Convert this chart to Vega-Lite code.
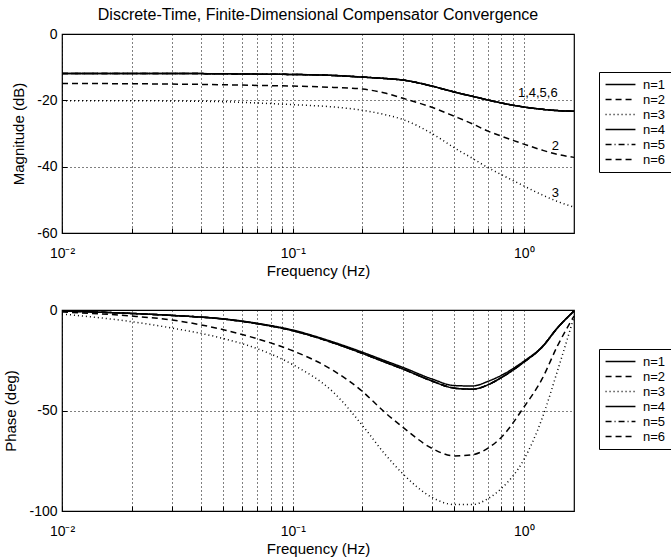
{
  "$schema": "https://vega.github.io/schema/vega-lite/v6.json",
  "padding": {"left": 3, "top": 6, "right": 0, "bottom": 0},
  "datasets": {
    "curves": [
      {"f":0.01,"n":"n=1","mag":-11.9,"ph":-0.5},{"f":0.02,"n":"n=1","mag":-11.9,"ph":-1.7},{"f":0.03,"n":"n=1","mag":-11.9,"ph":-2.7},{"f":0.05,"n":"n=1","mag":-12.0,"ph":-4.4},{"f":0.07,"n":"n=1","mag":-12.1,"ph":-6.6},{"f":0.1,"n":"n=1","mag":-12.2,"ph":-10.0},{"f":0.15,"n":"n=1","mag":-12.5,"ph":-16.0},{"f":0.2,"n":"n=1","mag":-13.0,"ph":-21.0},{"f":0.25,"n":"n=1","mag":-13.4,"ph":-25.2},{"f":0.3,"n":"n=1","mag":-13.9,"ph":-28.6},{"f":0.4,"n":"n=1","mag":-15.7,"ph":-34.3},{"f":0.5,"n":"n=1","mag":-17.5,"ph":-37.6},{"f":0.6,"n":"n=1","mag":-18.8,"ph":-37.8},{"f":0.7,"n":"n=1","mag":-19.9,"ph":-35.5},{"f":0.8,"n":"n=1","mag":-20.8,"ph":-32.5},{"f":1.0,"n":"n=1","mag":-22.0,"ph":-25.5},{"f":1.2,"n":"n=1","mag":-22.7,"ph":-18.3},{"f":1.4,"n":"n=1","mag":-23.1,"ph":-8.8},{"f":1.65,"n":"n=1","mag":-23.3,"ph":-0.5},
      {"f":0.01,"n":"n=2","mag":-14.9,"ph":-1.0},{"f":0.02,"n":"n=2","mag":-15.0,"ph":-3.0},{"f":0.03,"n":"n=2","mag":-15.1,"ph":-5.0},{"f":0.05,"n":"n=2","mag":-15.3,"ph":-9.8},{"f":0.07,"n":"n=2","mag":-15.5,"ph":-14.3},{"f":0.1,"n":"n=2","mag":-15.7,"ph":-20.3},{"f":0.15,"n":"n=2","mag":-16.1,"ph":-30.2},{"f":0.2,"n":"n=2","mag":-16.6,"ph":-40.5},{"f":0.25,"n":"n=2","mag":-17.8,"ph":-50.9},{"f":0.3,"n":"n=2","mag":-19.4,"ph":-58.4},{"f":0.4,"n":"n=2","mag":-22.1,"ph":-68.8},{"f":0.5,"n":"n=2","mag":-24.8,"ph":-72.6},{"f":0.6,"n":"n=2","mag":-27.1,"ph":-72.0},{"f":0.7,"n":"n=2","mag":-29.3,"ph":-68.7},{"f":0.8,"n":"n=2","mag":-30.8,"ph":-63.3},{"f":1.0,"n":"n=2","mag":-33.2,"ph":-48.4},{"f":1.2,"n":"n=2","mag":-35.0,"ph":-34.3},{"f":1.4,"n":"n=2","mag":-36.3,"ph":-17.8},{"f":1.65,"n":"n=2","mag":-37.2,"ph":-3.0},
      {"f":0.01,"n":"n=3","mag":-20.1,"ph":-2.0},{"f":0.02,"n":"n=3","mag":-20.1,"ph":-5.8},{"f":0.03,"n":"n=3","mag":-20.2,"ph":-9.0},{"f":0.05,"n":"n=3","mag":-20.4,"ph":-14.2},{"f":0.07,"n":"n=3","mag":-20.8,"ph":-19.2},{"f":0.1,"n":"n=3","mag":-21.3,"ph":-27.2},{"f":0.15,"n":"n=3","mag":-22.0,"ph":-41.0},{"f":0.2,"n":"n=3","mag":-23.0,"ph":-57.4},{"f":0.25,"n":"n=3","mag":-24.3,"ph":-71.6},{"f":0.3,"n":"n=3","mag":-25.8,"ph":-81.6},{"f":0.4,"n":"n=3","mag":-30.0,"ph":-93.2},{"f":0.5,"n":"n=3","mag":-34.3,"ph":-96.8},{"f":0.6,"n":"n=3","mag":-37.5,"ph":-96.8},{"f":0.7,"n":"n=3","mag":-40.3,"ph":-93.8},{"f":0.8,"n":"n=3","mag":-42.4,"ph":-88.8},{"f":1.0,"n":"n=3","mag":-45.8,"ph":-74.5},{"f":1.2,"n":"n=3","mag":-48.5,"ph":-54.0},{"f":1.4,"n":"n=3","mag":-50.5,"ph":-30.2},{"f":1.65,"n":"n=3","mag":-52.2,"ph":-3.5},
      {"f":0.01,"n":"n=4","mag":-11.9,"ph":-0.5},{"f":0.02,"n":"n=4","mag":-11.9,"ph":-1.7},{"f":0.03,"n":"n=4","mag":-11.9,"ph":-2.7},{"f":0.05,"n":"n=4","mag":-12.0,"ph":-4.5},{"f":0.07,"n":"n=4","mag":-12.1,"ph":-6.8},{"f":0.1,"n":"n=4","mag":-12.2,"ph":-10.3},{"f":0.15,"n":"n=4","mag":-12.5,"ph":-16.4},{"f":0.2,"n":"n=4","mag":-13.0,"ph":-21.6},{"f":0.25,"n":"n=4","mag":-13.4,"ph":-25.9},{"f":0.3,"n":"n=4","mag":-13.9,"ph":-29.4},{"f":0.4,"n":"n=4","mag":-15.7,"ph":-35.3},{"f":0.5,"n":"n=4","mag":-17.5,"ph":-38.9},{"f":0.6,"n":"n=4","mag":-18.8,"ph":-39.4},{"f":0.7,"n":"n=4","mag":-19.9,"ph":-37.2},{"f":0.8,"n":"n=4","mag":-20.8,"ph":-33.6},{"f":1.0,"n":"n=4","mag":-22.0,"ph":-26.0},{"f":1.2,"n":"n=4","mag":-22.7,"ph":-18.5},{"f":1.4,"n":"n=4","mag":-23.1,"ph":-8.9},{"f":1.65,"n":"n=4","mag":-23.3,"ph":-0.5},
      {"f":0.01,"n":"n=5","mag":-11.9,"ph":-0.5},{"f":0.02,"n":"n=5","mag":-11.9,"ph":-1.7},{"f":0.03,"n":"n=5","mag":-11.9,"ph":-2.7},{"f":0.05,"n":"n=5","mag":-12.0,"ph":-4.5},{"f":0.07,"n":"n=5","mag":-12.1,"ph":-6.8},{"f":0.1,"n":"n=5","mag":-12.2,"ph":-10.3},{"f":0.15,"n":"n=5","mag":-12.5,"ph":-16.4},{"f":0.2,"n":"n=5","mag":-13.0,"ph":-21.6},{"f":0.25,"n":"n=5","mag":-13.4,"ph":-25.9},{"f":0.3,"n":"n=5","mag":-13.9,"ph":-29.4},{"f":0.4,"n":"n=5","mag":-15.7,"ph":-35.3},{"f":0.5,"n":"n=5","mag":-17.5,"ph":-38.9},{"f":0.6,"n":"n=5","mag":-18.8,"ph":-39.4},{"f":0.7,"n":"n=5","mag":-19.9,"ph":-37.2},{"f":0.8,"n":"n=5","mag":-20.8,"ph":-33.6},{"f":1.0,"n":"n=5","mag":-22.0,"ph":-26.0},{"f":1.2,"n":"n=5","mag":-22.7,"ph":-18.5},{"f":1.4,"n":"n=5","mag":-23.1,"ph":-8.9},{"f":1.65,"n":"n=5","mag":-23.3,"ph":-0.5},
      {"f":0.01,"n":"n=6","mag":-11.9,"ph":-0.5},{"f":0.02,"n":"n=6","mag":-11.9,"ph":-1.7},{"f":0.03,"n":"n=6","mag":-11.9,"ph":-2.7},{"f":0.05,"n":"n=6","mag":-12.0,"ph":-4.5},{"f":0.07,"n":"n=6","mag":-12.1,"ph":-6.8},{"f":0.1,"n":"n=6","mag":-12.2,"ph":-10.3},{"f":0.15,"n":"n=6","mag":-12.5,"ph":-16.4},{"f":0.2,"n":"n=6","mag":-13.0,"ph":-21.6},{"f":0.25,"n":"n=6","mag":-13.4,"ph":-25.9},{"f":0.3,"n":"n=6","mag":-13.9,"ph":-29.4},{"f":0.4,"n":"n=6","mag":-15.7,"ph":-35.3},{"f":0.5,"n":"n=6","mag":-17.5,"ph":-38.9},{"f":0.6,"n":"n=6","mag":-18.8,"ph":-39.4},{"f":0.7,"n":"n=6","mag":-19.9,"ph":-37.2},{"f":0.8,"n":"n=6","mag":-20.8,"ph":-33.6},{"f":1.0,"n":"n=6","mag":-22.0,"ph":-26.0},{"f":1.2,"n":"n=6","mag":-22.7,"ph":-18.5},{"f":1.4,"n":"n=6","mag":-23.1,"ph":-8.9},{"f":1.65,"n":"n=6","mag":-23.3,"ph":-0.5}
    ],
    "labels": [
      {"f": 1.15, "mag": -17.8, "lab": "1,4,5,6"},
      {"f": 1.37, "mag": -33.8, "lab": "2"},
      {"f": 1.37, "mag": -47.8, "lab": "3"}
    ]
  },
  "vconcat": [
    {
      "width": 512,
      "height": 199,
      "title": {"text": "Discrete-Time, Finite-Dimensional Compensator Convergence", "fontSize": 16, "fontWeight": "normal", "frame": "group", "anchor": "middle", "offset": 4, "color": "black"},
      "layer": [
        {
          "data": {"name": "curves"},
          "mark": {"type": "line", "strokeWidth": 1.5, "color": "black", "interpolate": "monotone"},
          "encoding": {
            "x": {"field": "f", "type": "quantitative", "scale": {"type": "log", "domain": [0.01, 1.65], "nice": false},
                  "axis": {"title": "Frequency (Hz)", "values": [0.01,0.02,0.03,0.04,0.05,0.06,0.07,0.08,0.09,0.1,0.2,0.3,0.4,0.5,0.6,0.7,0.8,0.9,1],
                           "labelExpr": "datum.value == 0.01 ? '10⁻²' : datum.value == 0.1 ? '10⁻¹' : datum.value == 1 ? '10⁰' : ''"}},
            "y": {"field": "mag", "type": "quantitative", "scale": {"domain": [-60, 0], "nice": false},
                  "axis": {"title": "Magnitude (dB)", "values": [0, -20, -40, -60], "labelExpr": "'' + datum.value"}},
            "strokeDash": {"field": "n", "type": "nominal",
                           "scale": {"domain": ["n=1","n=2","n=3","n=4","n=5","n=6"], "range": [[1,0],[6,4],[1,3],[1,0],[6,3,1,3],[6,4]]},
                           "legend": {"legendX": 537, "legendY": 38}}
          }
        },
        {
          "data": {"name": "labels"},
          "mark": {"type": "text", "fontSize": 13, "color": "black", "baseline": "middle"},
          "encoding": {
            "x": {"field": "f", "type": "quantitative"},
            "y": {"field": "mag", "type": "quantitative"},
            "text": {"field": "lab"}
          }
        }
      ]
    },
    {
      "width": 512,
      "height": 201,
      "data": {"name": "curves"},
      "mark": {"type": "line", "strokeWidth": 1.5, "color": "black", "interpolate": "monotone"},
      "encoding": {
        "x": {"field": "f", "type": "quantitative", "scale": {"type": "log", "domain": [0.01, 1.65], "nice": false},
              "axis": {"title": "Frequency (Hz)", "values": [0.01,0.02,0.03,0.04,0.05,0.06,0.07,0.08,0.09,0.1,0.2,0.3,0.4,0.5,0.6,0.7,0.8,0.9,1],
                       "labelExpr": "datum.value == 0.01 ? '10⁻²' : datum.value == 0.1 ? '10⁻¹' : datum.value == 1 ? '10⁰' : ''"}},
        "y": {"field": "ph", "type": "quantitative", "scale": {"domain": [-100, 0], "nice": false},
              "axis": {"title": "Phase (deg)", "values": [0, -50, -100], "labelExpr": "'' + datum.value"}},
        "strokeDash": {"field": "n", "type": "nominal",
                       "scale": {"domain": ["n=1","n=2","n=3","n=4","n=5","n=6"], "range": [[1,0],[6,4],[1,3],[1,0],[6,3,1,3],[6,4]]},
                       "legend": {"legendX": 537, "legendY": 39}}
      }
    }
  ],
  "spacing": 23,
  "resolve": {"scale": {"strokeDash": "independent"}, "legend": {"strokeDash": "independent"}},
  "config": {
    "font": "Liberation Sans",
    "view": {"stroke": "black", "strokeWidth": 1.2},
    "axis": {"domain": false, "labelColor": "black", "titleColor": "black", "labelFontSize": 14, "titleFontSize": 15, "titleFontWeight": "normal",
             "tickColor": "black", "tickSize": -5, "gridColor": "black", "gridDash": [1, 3], "gridOpacity": 1, "gridWidth": 1, "labelFlush": false, "labelOverlap": false},
    "axisX": {"labelPadding": 18, "titlePadding": 3},
    "axisY": {"labelPadding": 10, "titlePadding": 10},
    "legend": {"title": null, "orient": "none", "strokeColor": "black", "fillColor": "white", "padding": 5, "symbolType": "M-2.3,0H2.3", "symbolSize": 169,
               "symbolOffset": 9, "symbolStrokeColor": "black", "symbolStrokeWidth": 1.5, "labelFontSize": 13, "labelColor": "black", "rowPadding": 0, "labelOffset": 15}
  }
}
